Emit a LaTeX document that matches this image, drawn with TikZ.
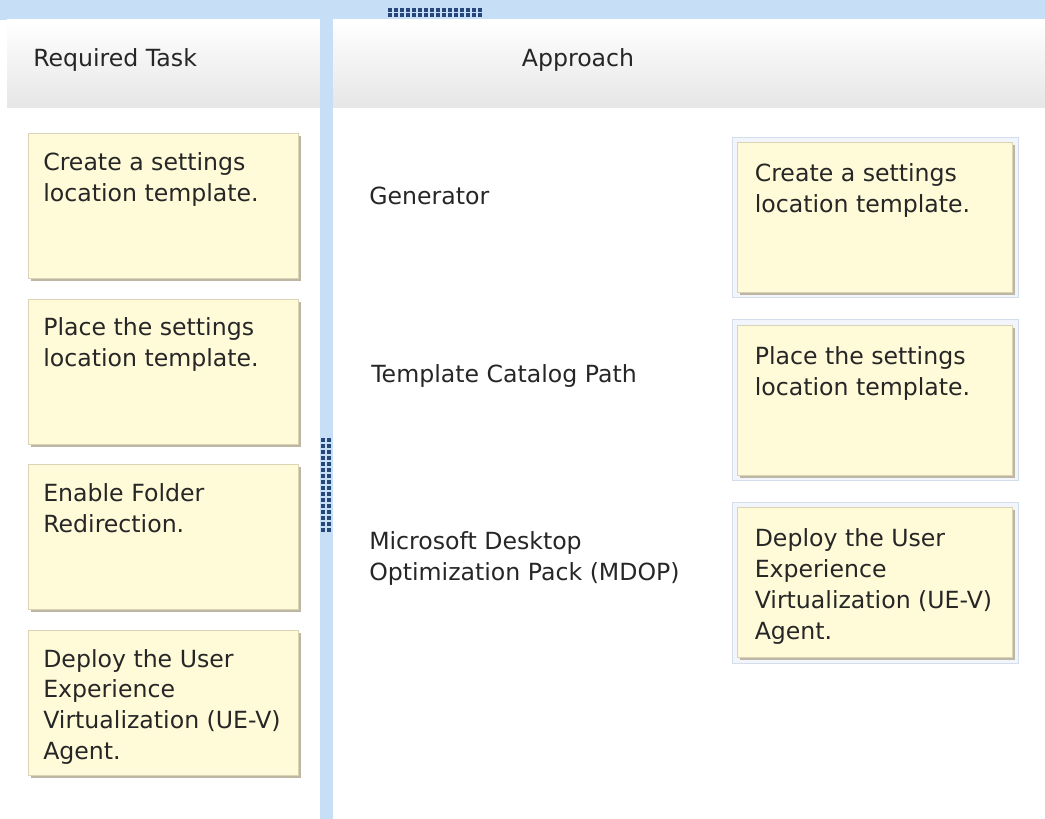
\documentclass[tikz,border=0pt]{standalone}
\usepackage{fontspec}
\setmainfont{DejaVu Sans}
\usepackage{xcolor}
\usetikzlibrary{positioning, shadows, backgrounds}

\definecolor{barblue}{HTML}{C6DEF6}
\definecolor{grip}{HTML}{27477A}
\definecolor{headgray}{HTML}{E6E6E6}
\definecolor{note}{HTML}{FFFBD9}
\definecolor{noteline}{HTML}{DAD3B6}
\definecolor{noteshade}{HTML}{BDB6A3}
\definecolor{slotline}{HTML}{D3DDEC}
\definecolor{slotfill}{HTML}{F2F5FB}
\definecolor{ink}{HTML}{262626}

\newcommand{\notetext}[1]{\parbox[t][2.675cm][t]{6cm}{\raggedright #1}}

\begin{document}
\begin{tikzpicture}[x=0.025cm, y=-0.025cm, node distance=0.5cm,
  txt/.style={text=ink, font=\fontsize{16.8}{22}\selectfont},
  task/.style={txt, draw=noteline, fill=note, inner xsep=0.375cm, inner ysep=0.475cm,
    general shadow={fill=noteshade, shadow xshift=2pt, shadow yshift=-2pt}},
  answer/.style={task, inner xsep=0.4375cm, inner ysep=0.5375cm},
  slot/.style={draw=slotline, fill=slotfill},
  lbl/.style={txt, inner sep=0pt}]
\useasboundingbox (0,0) rectangle (1045,819);

\fill[barblue] (0,0) rectangle (1045,20);
\shade[top color=white, bottom color=headgray] (7,20) rectangle (320,108);
\shade[top color=white, bottom color=headgray] (333,20) rectangle (1045,108);
\fill[barblue] (320,20) rectangle (333,819);

\foreach \i in {0,...,15} \foreach \j in {0,1}
  \fill[grip] ({388+6*\i},{8+5*\j}) rectangle +(4,4);
\foreach \i in {0,...,15} \foreach \j in {0,1}
  \fill[grip] ({321+6*\j},{438+6*\i}) rectangle +(4,4);

\node[lbl, anchor=base west] (reqhead) at (33,67) {Required Task};
\node[lbl, anchor=base] (apphead) at (578,67) {Approach};

\node[task, anchor=north west] (t1) at (28,133) {\notetext{Create a settings\\location template.}};
\node[task, below=of t1] (t2) {\notetext{Place the settings\\location template.}};
\node[task, below=of t2] (t3) {\notetext{Enable Folder\\Redirection.}};
\node[task, below=of t3] (t4) {\notetext{Deploy the User\\Experience\\Virtualization (UE-V)\\Agent.}};

\node[lbl, anchor=base west] (gen) at (369,205) {Generator};
\node[lbl, anchor=base west] (cat) at (371,383) {Template Catalog Path};
\node[lbl, anchor=north west, align=left] (mdop) at (369,531) {Microsoft Desktop\\Optimization Pack (MDOP)};

\node[answer, anchor=north west] (a1) at (737,142) {\notetext{Create a settings\\location template.}};
\node[answer, below=0.8cm of a1] (a2) {\notetext{Place the settings\\location template.}};
\node[answer, below=0.8cm of a2] (a3) {\notetext{Deploy the User\\Experience\\Virtualization (UE-V)\\Agent.}};

\begin{scope}[on background layer]
\foreach \n in {a1,a2,a3}
  \draw[slot] ([shift={(-5,-5)}]\n.north west) rectangle ([shift={(6,5)}]\n.south east);
\end{scope}
\end{tikzpicture}
\end{document}
